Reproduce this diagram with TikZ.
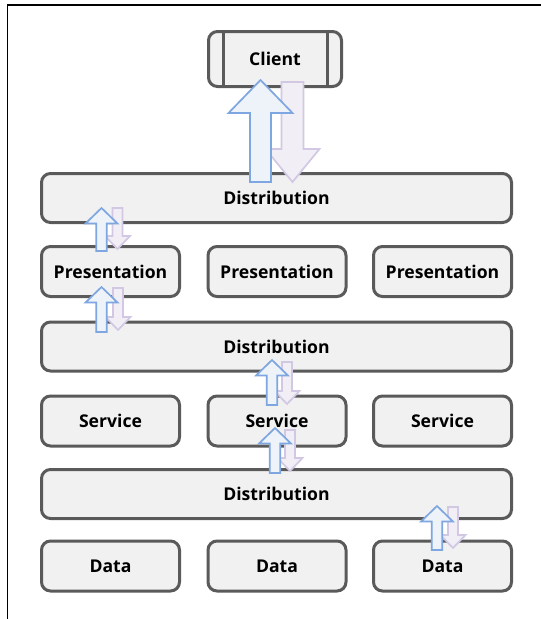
\documentclass[tikz,border=0pt]{standalone}
\usepackage{fontspec}
\setmainfont{Open Sans}
\definecolor{boxline}{HTML}{5A5A5A}
\definecolor{boxfill}{HTML}{F1F1F1}
\definecolor{upline}{HTML}{7EA6E0}
\definecolor{upfill}{HTML}{EEF2F9}
\definecolor{dnline}{HTML}{D2C8E3}
\definecolor{dnfill}{HTML}{F1EEF6}
\newcommand{\blkup}[6]{% cx, ytip, ybottom, shaft, head width, head length
  \draw[uparr] ({#1-#4/2},#3) -- ({#1-#4/2},{#2+#6}) -- ({#1-#5/2},{#2+#6}) -- (#1,#2)
    -- ({#1+#5/2},{#2+#6}) -- ({#1+#4/2},{#2+#6}) -- ({#1+#4/2},#3) -- cycle;}
\newcommand{\blkdown}[6]{% cx, ytop, ytip, shaft, head width, head length
  \draw[dnarr] ({#1-#4/2},#2) -- ({#1-#4/2},{#3-#6}) -- ({#1-#5/2},{#3-#6}) -- (#1,#3)
    -- ({#1+#5/2},{#3-#6}) -- ({#1+#4/2},{#3-#6}) -- ({#1+#4/2},#2) -- cycle;}
\begin{document}
\begin{tikzpicture}[x=1pt,y=-1pt,
  box/.style={draw=boxline, fill=boxfill, line width=3pt, rounded corners=9pt,
    inner sep=0pt, font=\fontsize{17.6pt}{20pt}\selectfont\bfseries},
  rowbox/.style={box, minimum width=138pt, minimum height=50pt},
  distbox/.style={box, minimum width=470pt, minimum height=49pt},
  uparr/.style={draw=upline, fill=upfill, line width=1.7pt, line join=miter},
  dnarr/.style={draw=dnline, fill=dnfill, line width=1.7pt, line join=miter}]
\useasboundingbox (0,0) rectangle (541,619);
\fill[white] (0,0) rectangle (541,619);
\draw[black, line width=1.3pt] (7.5,619) -- (7.5,5) -- (541,5);

% boxes
\node[box, minimum width=133pt, minimum height=55pt] (client) at (275,59) {Client};
\draw[boxline, line width=3pt] (223.5,31.5) -- (223.5,86.5);
\draw[boxline, line width=3pt] (327,31.5) -- (327,86.5);

\node[distbox] (dist1) at (276.5,198) {Distribution};
\node[rowbox] (pres1) at (110.5,271.5) {Presentation};
\node[rowbox] (pres2) at (277,271.5) {Presentation};
\node[rowbox] (pres3) at (442.5,271.5) {Presentation};
\node[distbox] (dist2) at (276.5,346.5) {Distribution};
\node[rowbox] (serv1) at (110.5,421) {Service};
\node[rowbox] (serv2) at (277,421) {Service};
\node[rowbox] (serv3) at (442.5,421) {Service};
\node[distbox] (dist3) at (276.5,494) {Distribution};
\node[rowbox] (data1) at (110.5,566) {Data};
\node[rowbox] (data2) at (277,566) {Data};
\node[rowbox] (data3) at (442.5,566) {Data};

% big pair: client <-> dist1
\blkdown{292.5}{82}{182}{22}{54}{33}
\blkup{260.5}{80}{182}{21}{64}{33}

% small pairs
\blkdown{117.5}{208}{249}{10}{25}{13}
\blkup{101.5}{208}{251}{10.5}{32}{15.5}

\blkdown{118}{288}{330}{10}{25}{13}
\blkup{101.5}{287}{332}{10.5}{32}{15.5}

\blkdown{287}{362}{404}{10}{25}{13}
\blkup{272}{360}{405}{10.5}{32}{15.5}

\blkdown{290}{430}{471}{10}{25}{13}
\blkup{275}{428}{473}{10.5}{32}{15.5}

\blkdown{453}{507}{548}{10}{25}{13}
\blkup{437}{506}{550}{10.5}{32}{15.5}
\end{tikzpicture}
\end{document}
